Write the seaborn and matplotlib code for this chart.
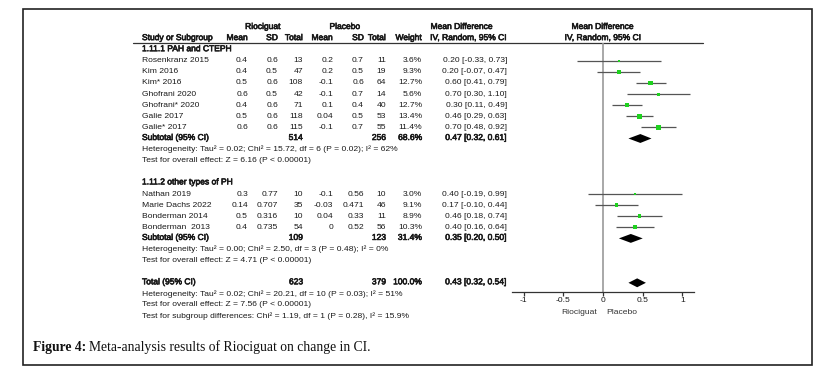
import numpy as np
import pandas as pd
import seaborn as sns
import matplotlib.pyplot as plt
import matplotlib.patheffects as pe
from matplotlib.patches import Rectangle

# subgroup 1.11.1 PAH and CTEPH
studies1 = ["Rosenkranz 2015", "Kim 2016", "Kim* 2016", "Ghofrani 2020",
            "Ghofrani* 2020", "Galie 2017", "Galie* 2017"]
rio_mean1 = [0.4, 0.4, 0.5, 0.6, 0.4, 0.5, 0.6]
rio_sd1 = [0.6, 0.5, 0.6, 0.5, 0.6, 0.6, 0.6]
rio_n1 = [13, 47, 108, 42, 71, 118, 115]
pla_mean1 = [0.2, 0.2, -0.1, -0.1, 0.1, 0.04, -0.1]
pla_sd1 = [0.7, 0.5, 0.6, 0.7, 0.4, 0.5, 0.7]
pla_n1 = [11, 19, 64, 14, 40, 53, 55]
weight1 = [3.6, 9.3, 12.7, 5.6, 12.7, 13.4, 11.4]
md1 = [0.20, 0.20, 0.60, 0.70, 0.30, 0.46, 0.70]
lo1 = [-0.33, -0.07, 0.41, 0.30, 0.11, 0.29, 0.48]
hi1 = [0.73, 0.47, 0.79, 1.10, 0.49, 0.63, 0.92]

# subgroup 1.11.2 other types of PH
studies2 = ["Nathan 2019", "Marie Dachs 2022", "Bonderman 2014", "Bonderman  2013"]
rio_mean2 = [0.3, 0.14, 0.5, 0.4]
rio_sd2 = [0.77, 0.707, 0.316, 0.735]
rio_n2 = [10, 35, 10, 54]
pla_mean2 = [-0.1, -0.03, 0.04, 0]
pla_sd2 = [0.56, 0.471, 0.33, 0.52]
pla_n2 = [10, 46, 11, 56]
weight2 = [3.0, 9.1, 8.9, 10.3]
md2 = [0.40, 0.17, 0.46, 0.40]
lo2 = [-0.19, -0.10, 0.18, 0.16]
hi2 = [0.99, 0.44, 0.74, 0.64]

# pooled results: (md, lo, hi, rio total, placebo total, weight)
sub1 = (0.47, 0.32, 0.61, 514, 256, 68.6)
sub2 = (0.35, 0.20, 0.50, 109, 123, 31.4)
total = (0.43, 0.32, 0.54, 623, 379, 100.0)

het1 = "Heterogeneity: Tau² = 0.02; Chi² = 15.72, df = 6 (P = 0.02); I² = 62%"
eff1 = "Test for overall effect: Z = 6.16 (P < 0.00001)"
het2 = "Heterogeneity: Tau² = 0.00; Chi² = 2.50, df = 3 (P = 0.48); I² = 0%"
eff2 = "Test for overall effect: Z = 4.71 (P < 0.00001)"
het_t = "Heterogeneity: Tau² = 0.02; Chi² = 20.21, df = 10 (P = 0.03); I² = 51%"
eff_t = "Test for overall effect: Z = 7.56 (P < 0.00001)"
sub_diff = "Test for subgroup differences: Chi² = 1.19, df = 1 (P = 0.28), I² = 15.9%"

xticks = [-1, -0.5, 0, 0.5, 1]

sns.set_style("white")
plt.rcParams['font.family'] = ['Liberation Sans', 'DejaVu Sans']

W, H = 825, 370
fig = plt.figure(figsize=(W / 100, H / 100), dpi=100)
bg = fig.add_axes([0, 0, 1, 1])
bg.set_xlim(0, W)
bg.set_ylim(H, 0)
bg.axis("off")

y0, dy = 27.5, 11.1
ink = "#1a1a1a"
fs = 6.1
fake_bold = [pe.withStroke(linewidth=0.45, foreground=ink)]


def row_y(r):
    return y0 + dy * r


def put(x, r, s, ha="right", bold=False):
    bg.text(x, row_y(r), s, ha=ha, va="center", fontsize=fs, color=ink,
            path_effects=fake_bold if bold else None)


bg.add_patch(Rectangle((23, 9), 789, 356, fill=False, ec="#222222", lw=1.2))
bg.plot([133, 703], [43, 43], color="#333333", lw=0.9)

# headers
put(263, 0, "Riociguat", ha="center", bold=True)
put(345, 0, "Placebo", ha="center", bold=True)
put(462, 0, "Mean Difference", ha="center", bold=True)
put(603, 0, "Mean Difference", ha="center", bold=True)
put(142, 1, "Study or Subgroup", ha="left", bold=True)
cols = [248, 278, 303, 333, 364, 386, 422, 507]
for x, s in zip(cols, ["Mean", "SD", "Total", "Mean", "SD", "Total", "Weight",
                       "IV, Random, 95% CI"]):
    put(x, 1, s, bold=True)
put(603, 1, "IV, Random, 95% CI", ha="center", bold=True)


def study_rows(first, names, rm, rs, rn, pm, ps, pn, w, md, lo, hi):
    rows = list(range(first, first + len(names)))
    for i, r in enumerate(rows):
        put(142, r, names[i], ha="left")
        vals = [f"{rm[i]:g}", f"{rs[i]:g}", f"{rn[i]}", f"{pm[i]:g}", f"{ps[i]:g}",
                f"{pn[i]}", f"{w[i]:.1f}%", f"{md[i]:.2f} [{lo[i]:.2f}, {hi[i]:.2f}]"]
        for x, s in zip(cols, vals):
            put(x, r, s)
    return rows


def pooled_row(r, label, res):
    put(142, r, label, ha="left", bold=True)
    put(cols[2], r, f"{res[3]}", bold=True)
    put(cols[5], r, f"{res[4]}", bold=True)
    put(cols[6], r, f"{res[5]:.1f}%", bold=True)
    put(cols[7], r, f"{res[0]:.2f} [{res[1]:.2f}, {res[2]:.2f}]", bold=True)


put(142, 2, "1.11.1 PAH and CTEPH", ha="left", bold=True)
rows1 = study_rows(3, studies1, rio_mean1, rio_sd1, rio_n1, pla_mean1, pla_sd1,
                   pla_n1, weight1, md1, lo1, hi1)
r_sub1 = rows1[-1] + 1
pooled_row(r_sub1, "Subtotal (95% CI)", sub1)
put(142, r_sub1 + 1, het1, ha="left")
put(142, r_sub1 + 2, eff1, ha="left")

r_g2 = r_sub1 + 4
put(142, r_g2, "1.11.2 other types of PH", ha="left", bold=True)
rows2 = study_rows(r_g2 + 1, studies2, rio_mean2, rio_sd2, rio_n2, pla_mean2, pla_sd2,
                   pla_n2, weight2, md2, lo2, hi2)
r_sub2 = rows2[-1] + 1
pooled_row(r_sub2, "Subtotal (95% CI)", sub2)
put(142, r_sub2 + 1, het2, ha="left")
put(142, r_sub2 + 2, eff2, ha="left")

r_tot = r_sub2 + 4
pooled_row(r_tot, "Total (95% CI)", total)
put(142, r_tot + 1, het_t, ha="left")
put(142, r_tot + 2, eff_t, ha="left")
put(142, r_tot + 3, sub_diff, ha="left")

# forest panel
px_l, px_r, px_t, px_b = 511.6, 694.4, 43, 292
fp = fig.add_axes([px_l / W, (H - px_b) / H, (px_r - px_l) / W, (px_b - px_t) / H])
fp.set_xlim(-1.15, 1.15)
fp.set_ylim((px_b - y0) / dy, (px_t - y0) / dy)
fp.patch.set_alpha(0)
for side in ["top", "left", "right"]:
    fp.spines[side].set_visible(False)
fp.spines["bottom"].set_color("#333333")
fp.spines["bottom"].set_linewidth(0.9)
fp.set_yticks([])
fp.set_xticks(xticks)
fp.set_xticklabels([f"{t:g}" for t in xticks])
fp.tick_params(axis="x", direction="out", length=3, width=0.9, color="#333333",
               labelsize=fs, labelcolor=ink, pad=0.5, bottom=True)
fp.axvline(0, color="#9a9a9a", lw=1.2, zorder=1)

df = pd.DataFrame({
    "row": rows1 + rows2,
    "md": md1 + md2,
    "lo": lo1 + lo2,
    "hi": hi1 + hi2,
    "weight": weight1 + weight2,
})
fp.hlines(df["row"], df["lo"], df["hi"], color="#555555", lw=0.9, zorder=2)
sns.scatterplot(data=df, x="md", y="row", size="weight", sizes=(3, 11),
                size_norm=(3, 13.4), marker="s", color="#1fd11f", linewidth=0,
                legend=False, ax=fp, zorder=3)
fp.set_xlabel("")
fp.set_ylabel("")

half = 0.4
for r, res in [(r_sub1, sub1), (r_sub2, sub2), (r_tot, total)]:
    fp.fill([res[1], res[0], res[2], res[0]], [r, r - half, r, r + half],
            color="black", lw=0, zorder=3)

bg.text(597, 312, "Riociguat", ha="right", va="center", fontsize=fs, color="#333333")
bg.text(606, 312, "Placebo", ha="left", va="center", fontsize=fs, color="#333333")

serif = ["Liberation Serif", "DejaVu Serif"]
cap1 = bg.text(33, 347, "Figure 4:", ha="left", va="center", fontsize=9.8,
               family=serif, fontweight="bold", color="#111111")
fig.canvas.draw()
ext = cap1.get_window_extent()
bg.text(ext.x1 + 3, 347, "Meta-analysis results of Riociguat on change in CI.",
        ha="left", va="center", fontsize=9.8, family=serif, color="#111111")

fig.savefig("out.png", dpi=100, facecolor="white")
